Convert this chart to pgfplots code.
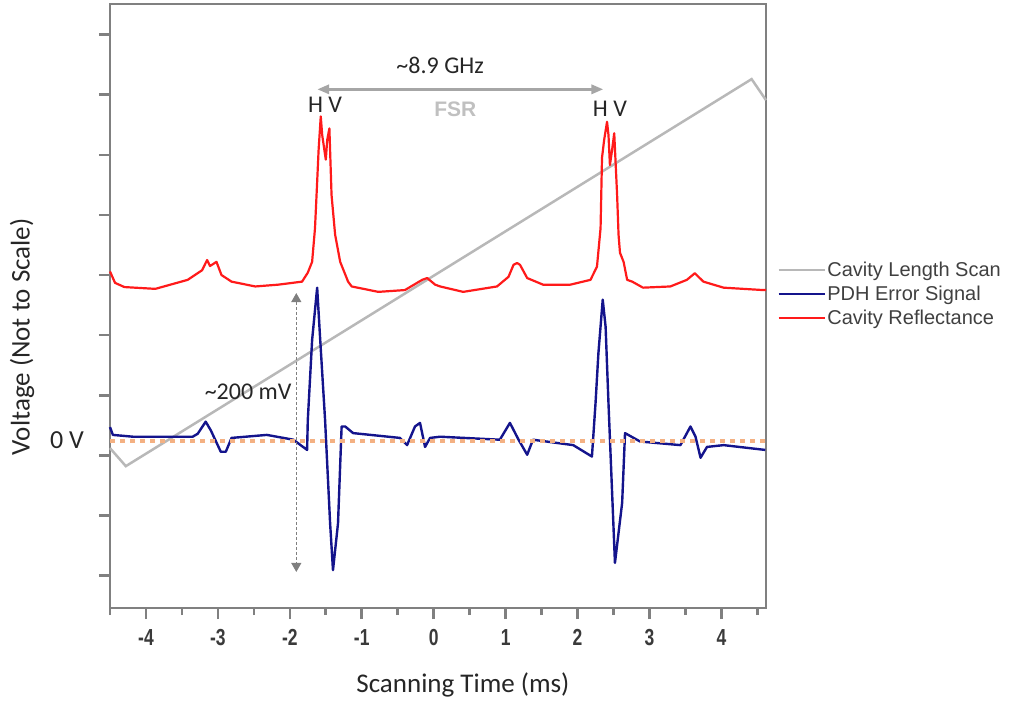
\documentclass[border=0pt]{standalone}
\usepackage{pgfplots}
\pgfplotsset{compat=1.18}
\usepackage{fontspec}
\setmainfont{Carlito}
\newfontfamily\arial{Liberation Sans}
\usetikzlibrary{arrows.meta}
\definecolor{axisgray}{HTML}{808080}
\definecolor{ramp}{HTML}{B8B8B8}
\definecolor{pdh}{HTML}{14148C}
\definecolor{refl}{HTML}{FF1A1A}
\definecolor{zeroline}{HTML}{F4B183}
\definecolor{ticktext}{HTML}{3A3A3A}
\definecolor{legtext}{HTML}{404040}
\definecolor{annogray}{HTML}{A6A6A6}
\definecolor{fsrgray}{HTML}{C0C0C0}
\definecolor{vdash}{HTML}{7F7F7F}
\newcommand\sq[1]{\scalebox{0.92}[1.22]{#1}}
\begin{document}
\begin{tikzpicture}
\useasboundingbox (0,0) rectangle (1011bp,702bp);
\begin{axis}[
  at={(110bp,94bp)}, anchor=south west,
  scale only axis, width=656bp, height=604bp,
  xmin=-4.5, xmax=4.62, ymin=-0.54, ymax=9.51,
  axis line style={draw=axisgray, line width=2.6bp},
  xtick={-4,...,4}, xticklabels={\sq{-4},\sq{-3},\sq{-2},\sq{-1},\sq{0},\sq{1},\sq{2},\sq{3},\sq{4}},
  minor xtick={-4.5,-3.5,...,4.5},
  ytick={0,...,9}, yticklabels={},
  tick align=outside, xtick pos=bottom, ytick pos=left,
  major tick length=11bp, minor tick length=7bp,
  every tick/.style={draw=axisgray, line width=2.6bp},
  every minor tick/.style={draw=axisgray, line width=2.6bp},
  xticklabel style={font=\arial\bfseries\fontsize{19bp}{21bp}\selectfont, text=ticktext, yshift=-7bp},
  clip=false,
  xlabel={Scanning Time (ms)},
  xlabel style={at={(axis description cs:0.538,-0.1275)}, anchor=center, font=\fontsize{27bp}{31bp}\selectfont, text=black!85},
  ylabel={Voltage (Not to Scale)},
  ylabel style={at={(axis description cs:-0.134,0.449)}, anchor=center, font=\fontsize{27bp}{31bp}\selectfont, text=black!85},
  legend style={at={(1.017,0.52)}, anchor=west, draw=none, fill=none,
    font=\arial\fontsize{20bp}{23bp}\selectfont, text=legtext, row sep=5bp,
    inner sep=0pt, nodes={inner sep=1.5bp}},
  legend image code/.code={\draw[#1, line width=2.5bp] (0bp,0bp) -- (46bp,0bp);},
  legend cell align=left,
]
\addplot[ramp, line width=2.5bp] coordinates {(-4.50,2.12) (-4.28,1.82) (4.42,8.26) (4.62,7.91)};
\addlegendentry{Cavity Length Scan}
\addplot[pdh, line width=2.4bp, line join=round] coordinates {
(-4.50,2.47) (-4.46,2.34) (-4.18,2.31) (-3.35,2.31) (-3.28,2.36) (-3.17,2.56) (-3.10,2.42)
(-2.96,2.06) (-2.89,2.06) (-2.81,2.29) (-2.32,2.34) (-1.95,2.26) (-1.76,2.09) (-1.75,2.59)
(-1.69,3.92) (-1.62,4.79) (-1.58,3.97) (-1.51,2.59) (-1.44,0.87) (-1.40,0.09) (-1.33,0.87)
(-1.28,2.48) (-1.23,2.48) (-1.12,2.37) (-0.47,2.29) (-0.37,2.17) (-0.26,2.48) (-0.19,2.54)
(-0.12,2.14) (-0.05,2.29) (0.09,2.31) (0.92,2.26) (1.06,2.54) (1.18,2.26) (1.30,2.01)
(1.38,2.26) (1.94,2.17) (2.20,1.98) (2.25,2.87) (2.29,3.70) (2.35,4.59) (2.39,4.14)
(2.43,2.87) (2.52,0.21) (2.62,1.21) (2.66,2.37) (2.87,2.23) (3.43,2.17) (3.57,2.48)
(3.64,2.31) (3.71,1.96) (3.80,2.14) (4.03,2.17) (4.61,2.09)};
\addlegendentry{PDH Error Signal}
\addplot[refl, line width=2.2bp, line join=round] coordinates {
(-4.50,5.06) (-4.43,4.87) (-4.30,4.80) (-3.87,4.77) (-3.42,4.92) (-3.22,5.08) (-3.15,5.25)
(-3.11,5.15) (-3.07,5.18) (-3.02,5.22) (-2.95,5.00) (-2.81,4.89) (-2.48,4.81) (-2.16,4.84)
(-1.83,4.89) (-1.75,5.04) (-1.69,5.22) (-1.65,5.78) (-1.62,6.55) (-1.60,7.08) (-1.57,7.64)
(-1.55,7.33) (-1.50,6.92) (-1.48,7.25) (-1.45,7.44) (-1.42,6.33) (-1.37,5.67) (-1.30,5.22)
(-1.19,4.89) (-1.14,4.81) (-0.77,4.72) (-0.40,4.75) (-0.16,4.92) (-0.09,4.95) (0.02,4.84)
(0.09,4.81) (0.41,4.72) (0.88,4.81) (1.04,4.97) (1.11,5.17) (1.16,5.20) (1.20,5.17)
(1.30,4.95) (1.52,4.84) (1.90,4.84) (2.18,4.92) (2.27,5.14) (2.32,5.78) (2.34,6.95)
(2.37,7.25) (2.41,7.55) (2.43,7.33) (2.45,6.83) (2.48,7.08) (2.51,7.36) (2.55,6.33)
(2.57,5.67) (2.59,5.37) (2.64,5.22) (2.69,4.92) (2.76,4.89) (2.91,4.79) (3.29,4.81)
(3.52,4.92) (3.63,5.03) (3.75,4.89) (4.03,4.79) (4.58,4.75) (4.62,4.75)};
\addlegendentry{Cavity Reflectance}
\addplot[zeroline, line width=3.5bp, dash pattern=on 5bp off 5bp, forget plot] coordinates {(-4.5,2.24) (4.62,2.24)};
\draw[annogray, line width=3bp, {Triangle[length=12bp,width=9bp]}-{Triangle[length=12bp,width=9bp]}] (axis cs:-1.62,8.09) -- (axis cs:2.36,8.09);
\node[font=\fontsize{24bp}{28bp}\selectfont, text=black!85] at (axis cs:0.09,8.48) {\textasciitilde8.9 GHz};
\node[font=\arial\bfseries\fontsize{21bp}{24bp}\selectfont, text=fsrgray] at (axis cs:0.30,7.75) {FSR};
\node[font=\fontsize{24bp}{28bp}\selectfont, text=black!85] at (axis cs:-1.51,7.83) {H V};
\node[font=\fontsize{24bp}{28bp}\selectfont, text=black!85] at (axis cs:2.45,7.76) {H V};
\draw[vdash, line width=1.2bp, dash pattern=on 3bp off 2bp, {Triangle[length=9bp,width=10bp]}-{Triangle[length=9bp,width=10bp]}] (axis cs:-1.91,4.70) -- (axis cs:-1.91,0.06);
\node[font=\fontsize{24bp}{28bp}\selectfont, text=black!85] at (axis cs:-2.58,3.06) {\textasciitilde200 mV};
\end{axis}
\node[font=\fontsize{26bp}{30bp}\selectfont, text=black!85] at (67bp,262bp) {0 V};
\end{tikzpicture}
\end{document}
